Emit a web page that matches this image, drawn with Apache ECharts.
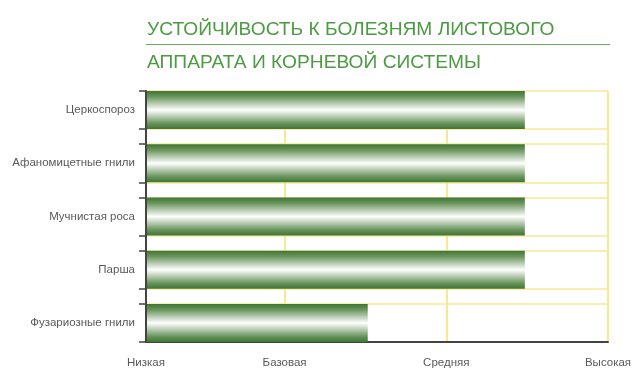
<!DOCTYPE html>
<html>
<head>
<meta charset="utf-8">
<script src="https://cdn.jsdelivr.net/npm/echarts@6/dist/echarts.min.js"></script>
<style>
html,body{margin:0;padding:0;background:#fff;}
#chart{width:640px;height:386px;}
</style>
</head>
<body>
<div id="chart"></div>
<script>
// ---- data ----
const titleLine1 = 'УСТОЙЧИВОСТЬ К БОЛЕЗНЯМ ЛИСТОВОГО';
const titleLine2 = 'АППАРАТА И КОРНЕВОЙ СИСТЕМЫ';
const categories = ['Церкоспороз', 'Афаномицетные гнили', 'Мучнистая роса', 'Парша', 'Фузариозные гнили'];
const resistance = [82, 82, 82, 82, 48];
const levelValues = [0, 30, 65, 100];
const levelLabels = ['Низкая', 'Базовая', 'Средняя', 'Высокая'];

// ---- layout helpers (not data) ----
const BAR_H = 0.714;               // bar thickness in category units
const yMax = categories.length - 1 + BAR_H;
const yTicks = [];
categories.forEach((c, i) => { yTicks.push(i, i + BAR_H); });
const yCenters = categories.map((c, i) => i + BAR_H / 2);

const chart = echarts.init(document.getElementById('chart'), null, {renderer: 'canvas'});

const barFill = new echarts.graphic.LinearGradient(0, 0, 0, 1, [
  {offset: 0, color: '#3e7533'},
  {offset: 0.15, color: '#6a955d'},
  {offset: 0.5, color: '#ffffff'},
  {offset: 0.85, color: '#6a955d'},
  {offset: 1, color: '#3e7533'}
]);

const titleStyle = {fontFamily: 'Liberation Sans, Arial, sans-serif', fontSize: 19.2, fontWeight: 'normal', color: '#4c9a42'};

const option = {
  animation: false,
  backgroundColor: '#ffffff',
  title: [
    {text: titleLine1, left: 142, top: 15, textStyle: titleStyle},
    {text: titleLine2, left: 142, top: 48, textStyle: titleStyle}
  ],
  graphic: [
    {type: 'line', shape: {x1: 146, y1: 44.5, x2: 610, y2: 44.5}, style: {stroke: '#6aab60', lineWidth: 1}}
  ],
  grid: {left: 146, right: 32, top: 91, bottom: 44, containLabel: false},
  xAxis: {
    type: 'value', min: 0, max: 100,
    axisLine: {show: true, onZero: false, lineStyle: {color: '#444', width: 2}},
    axisTick: {show: false, customValues: levelValues},
    axisLabel: {customValues: levelValues, margin: 15, color: '#595959', fontSize: 11.5,
      fontFamily: 'Liberation Sans, Arial, sans-serif',
      formatter: v => levelLabels[levelValues.indexOf(v)] || ''},
    splitLine: {show: true, lineStyle: {color: '#f7e98f', width: 2}}
  },
  yAxis: {
    type: 'value', min: 0, max: yMax, inverse: true,
    axisLine: {show: true, onZero: false, lineStyle: {color: '#444', width: 2}},
    axisTick: {show: true, customValues: yTicks, length: 7, inside: false, lineStyle: {color: '#444', width: 1.5}},
    axisLabel: {customValues: yCenters, margin: 11, color: '#595959', fontSize: 11.5,
      fontFamily: 'Liberation Sans, Arial, sans-serif',
      formatter: v => categories[Math.round(v - BAR_H / 2)] || ''},
    splitLine: {show: true, lineStyle: {color: '#f7e98f', width: 1.5}}
  },
  series: [{
    type: 'custom',
    data: resistance.map((v, i) => [v, i]),
    encode: {x: 0, y: 1},
    renderItem: function (params, api) {
      const v = api.value(0);
      const i = api.value(1);
      const p0 = api.coord([0, i]);
      const p1 = api.coord([v, i + BAR_H]);
      return {
        type: 'rect',
        shape: {x: p0[0] + 1, y: p0[1], width: p1[0] - p0[0] - 1, height: p1[1] - p0[1]},
        style: {fill: barFill}
      };
    }
  }]
};
chart.setOption(option);
</script>
</body>
</html>
